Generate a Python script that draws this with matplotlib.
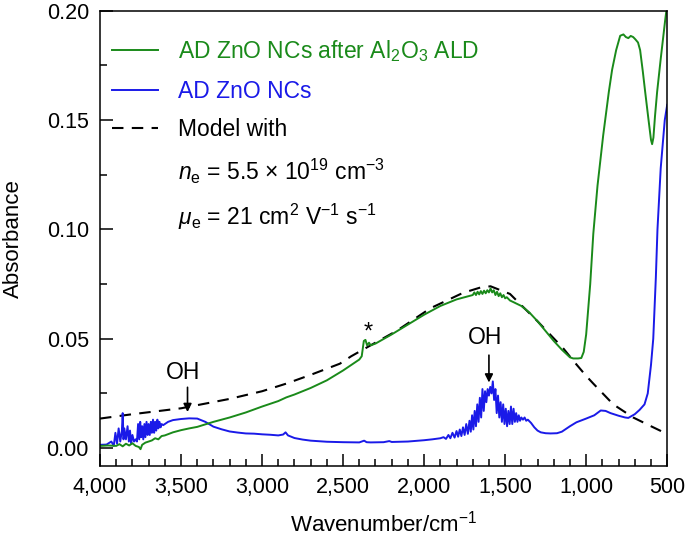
import numpy as np
import matplotlib.pyplot as plt
from matplotlib.lines import Line2D
from matplotlib.ticker import MultipleLocator, FuncFormatter

plt.rcParams['font.family'] = ['Liberation Sans', 'DejaVu Sans']
plt.rcParams['mathtext.fontset'] = 'custom'
plt.rcParams['mathtext.rm'] = 'Liberation Sans'
plt.rcParams['mathtext.it'] = 'Liberation Sans:italic'
plt.rcParams['font.size'] = 15

# ---- data ----
# AD ZnO NCs (blue)
blue_wn = [4000, 3960, 3930, 3915, 3905, 3895, 3885, 3875, 3865, 3860, 3855, 3850,
           3840, 3830, 3822, 3815, 3808, 3800, 3790, 3780, 3772, 3765, 3758, 3752,
           3746, 3740, 3733, 3726, 3720, 3713, 3706, 3700, 3693, 3686, 3680, 3673,
           3666, 3660, 3653, 3646, 3640, 3633, 3626, 3620, 3610, 3600, 3580, 3550,
           3500, 3450, 3400, 3350, 3300, 3250, 3200, 3150, 3100, 3050, 3000, 2950,
           2900, 2870, 2855, 2840, 2800, 2750, 2700, 2600, 2500, 2400, 2370, 2355,
           2330, 2250, 2215, 2200, 2100, 2000, 1950,
           1900, 1880, 1865, 1850, 1838, 1825, 1812, 1800, 1790, 1780, 1770, 1760,
           1750, 1740, 1730, 1720, 1712, 1704, 1696, 1688, 1680, 1672, 1664, 1656,
           1648, 1640, 1632, 1624, 1616, 1608, 1600, 1592, 1584, 1576, 1568, 1560,
           1552, 1544, 1536, 1528, 1520, 1512, 1504, 1496, 1488, 1480, 1472, 1464,
           1456, 1448, 1440, 1432, 1424, 1416, 1408, 1400, 1390, 1380, 1370, 1360,
           1340, 1320, 1300, 1280, 1250, 1220, 1180, 1150, 1100, 1060, 1000, 950,
           910, 880, 850, 800, 760, 740, 700, 670, 640, 620, 600, 586, 570, 560,
           540, 515, 500]
blue_abs = [0.0015, 0.0016, 0.003, 0.001, 0.007, 0.002, 0.009, 0.003, 0.008, 0.016, 0.004, 0.009,
            0.004, 0.010, 0.003, 0.008, 0.002, 0.006, 0.003, 0.004, 0.003, 0.011, 0.004, 0.012,
            0.005, 0.010, 0.004, 0.011, 0.005, 0.012, 0.006, 0.011, 0.006, 0.012, 0.007, 0.013,
            0.007, 0.012, 0.008, 0.013, 0.009, 0.012, 0.0095, 0.011, 0.0105, 0.011, 0.012, 0.0128,
            0.0133, 0.0136, 0.0135, 0.012, 0.0098, 0.0086, 0.0076, 0.0071, 0.0067, 0.0066, 0.0063, 0.0061,
            0.0058, 0.0062, 0.0072, 0.0058, 0.0046, 0.0039, 0.0034, 0.0029, 0.0027, 0.0026, 0.0034, 0.0027,
            0.0026, 0.0027, 0.0032, 0.0028, 0.0030, 0.0036, 0.0040,
            0.0045, 0.0050, 0.0042, 0.0060, 0.0045, 0.0070, 0.0048, 0.0078, 0.0052, 0.0085, 0.0055, 0.0095,
            0.0060, 0.0110, 0.0065, 0.0125, 0.0075, 0.0150, 0.0085, 0.0170, 0.0100, 0.0200, 0.0120, 0.0230,
            0.0140, 0.0270, 0.0170, 0.0260, 0.0210, 0.0270, 0.0240, 0.0280, 0.0250, 0.0305, 0.0220, 0.0270,
            0.0160, 0.0240, 0.0140, 0.0210, 0.0120, 0.0200, 0.0110, 0.0180, 0.0100, 0.0170, 0.0110, 0.0190,
            0.0110, 0.0180, 0.0120, 0.0160, 0.0120, 0.0150, 0.0125, 0.0140, 0.0130, 0.0140, 0.0125, 0.0130,
            0.0115, 0.0095, 0.0080, 0.0072, 0.0068, 0.0067, 0.0068, 0.0075, 0.0100, 0.0118, 0.0135, 0.0150,
            0.0172, 0.0170, 0.0160, 0.0148, 0.0140, 0.0138, 0.0155, 0.0175, 0.0200, 0.0250, 0.038, 0.050, 0.078, 0.100,
            0.128, 0.150, 0.157]

# AD ZnO NCs after Al2O3 ALD (green)
green_wn = [4000, 3950, 3900, 3880, 3860, 3840, 3820, 3800, 3780, 3760, 3750, 3740,
            3720, 3700, 3680, 3660, 3640, 3620, 3600, 3550, 3500, 3450, 3400, 3300,
            3200, 3100, 3000, 2900, 2850, 2800, 2700, 2600, 2500, 2400, 2385, 2372,
            2362, 2352, 2340, 2330, 2300, 2200, 2100, 2000, 1900, 1800, 1750, 1700,
            1690, 1680, 1670, 1660, 1650, 1640, 1630, 1620, 1610, 1600, 1590, 1580,
            1570, 1560, 1550, 1540, 1530, 1520, 1510, 1500, 1490, 1470, 1450, 1400,
            1350, 1300, 1250, 1200, 1150, 1100, 1080, 1050, 1030, 1015, 1000, 975,
            956, 930, 895, 860, 840, 815, 790, 770, 755, 740, 725, 710, 697, 680,
            667, 650, 636, 615, 600, 593, 585, 575, 562, 540, 512, 500]
green_abs = [0.0010, 0.0012, 0.0010, 0.0018, 0.0008, 0.0020, 0.0012, 0.0022, 0.0010, 0.0005, -0.0005, 0.0015,
             0.0025, 0.0030, 0.0035, 0.0045, 0.0040, 0.0055, 0.0058, 0.0072, 0.0082, 0.0090, 0.0097, 0.0120,
             0.0140, 0.0163, 0.0190, 0.0215, 0.0232, 0.0245, 0.0275, 0.0310, 0.0355, 0.0405, 0.0420, 0.0490,
             0.0495, 0.0470, 0.0482, 0.0470, 0.0478, 0.0520, 0.0565, 0.0610, 0.0650, 0.0680, 0.0690, 0.0700,
             0.0712, 0.0700, 0.0715, 0.0703, 0.0718, 0.0705, 0.0720, 0.0708, 0.0722, 0.0712, 0.0730, 0.0712,
             0.0722, 0.0700, 0.0715, 0.0695, 0.0708, 0.0690, 0.0700, 0.0685, 0.0690, 0.0675, 0.0668, 0.0650,
             0.0620, 0.0580, 0.0535, 0.0490, 0.0450, 0.0415, 0.0410, 0.0410, 0.0412, 0.0440, 0.0520, 0.0750,
             0.0980, 0.1200, 0.1430, 0.1630, 0.1730, 0.1820, 0.1886, 0.1892, 0.1880, 0.1875, 0.1885, 0.1880, 0.1870, 0.1855,
             0.1820, 0.1720, 0.1630, 0.1500, 0.1410, 0.1390, 0.1420, 0.1520, 0.1630, 0.1780, 0.1960, 0.2030]

# Drude model (dashed)
model_wn = [4000, 3800, 3500, 3200, 3000, 2850, 2700, 2520, 2450, 2330, 2170, 1960,
            1760, 1650, 1590, 1470, 1300, 1140, 1080, 1000, 956, 833, 710, 600, 530]
model_abs = [0.0135, 0.0155, 0.0182, 0.0225, 0.0260, 0.0295, 0.0335, 0.0386, 0.0420, 0.0470, 0.0536, 0.0640,
             0.0710, 0.0735, 0.0740, 0.0705, 0.0580, 0.0455, 0.0400, 0.0330, 0.0295, 0.0200, 0.0140, 0.0100, 0.0075]

green_c = '#1a8a1a'
blue_c = '#1a1ae8'

fig = plt.figure(figsize=(6.85, 5.4), dpi=100)
ax = fig.add_axes([0.146, 0.137, 0.828, 0.843])

ax.plot(model_wn, model_abs, c='black', lw=1.5, ls=(0, (5.5, 4)))
ax.plot(blue_wn, blue_abs, c=blue_c, lw=1.4)
ax.plot(green_wn, green_abs, c=green_c, lw=1.4)

ax.set_xlim(4000, 500)
ax.set_ylim(-0.0082, 0.20)

ax.xaxis.set_major_locator(MultipleLocator(500))
ax.xaxis.set_minor_locator(MultipleLocator(100))
ax.yaxis.set_major_locator(MultipleLocator(0.05))
ax.yaxis.set_minor_locator(MultipleLocator(0.025))
ax.xaxis.set_major_formatter(FuncFormatter(lambda v, p: f'{v:,.0f}'))
ax.yaxis.set_major_formatter(FuncFormatter(lambda v, p: f'{v:.2f}'))
ax.tick_params(which='both', direction='in', top=False, right=False, width=1.1, labelsize=15.5)
ax.tick_params(which='major', length=9, pad=8)
ax.tick_params(which='minor', length=5)
for s in ax.spines.values():
    s.set_linewidth(1.1)

ax.set_xlabel('Wavenumber/cm$^{-1}$', fontsize=16, labelpad=9)
ax.set_ylabel('Absorbance', fontsize=16, labelpad=16)

# annotations
arr = dict(arrowstyle='-|>', color='black', lw=1.2, mutation_scale=12, shrinkA=0, shrinkB=0)
ax.annotate('', xy=(3460, 0.0165), xytext=(3460, 0.0278), arrowprops=arr)
ax.text(3488, 0.0345, 'OH', ha='center', va='center', fontsize=16.5)
ax.annotate('', xy=(1600, 0.030), xytext=(1600, 0.0425), arrowprops=arr)
ax.text(1623, 0.0505, 'OH', ha='center', va='center', fontsize=16.5)
ax.text(2346, 0.053, '*', ha='center', va='center', fontsize=17)

handles = [Line2D([], [], c=green_c, lw=1.4),
           Line2D([], [], c=blue_c, lw=1.4),
           Line2D([], [], c='black', lw=1.5, ls=(0, (5.5, 4))),
           Line2D([], [], c='none'),
           Line2D([], [], c='none')]
labels = ['AD ZnO NCs after Al$_2$O$_3$ ALD', 'AD ZnO NCs', 'Model with',
          r'$n_{\rm e}$ = 5.5 × 10$^{19}$ cm$^{-3}$',
          r'$\mu_{\rm e}$ = 21 cm$^{2}$ V$^{-1}$ s$^{-1}$']
ax.legend(handles, labels, loc='upper left', bbox_to_anchor=(0.021, 0.94),
          frameon=False, fontsize=16.5, handlelength=2.0, handletextpad=0.87,
          labelspacing=0.68, borderpad=0, borderaxespad=0,
          labelcolor=[green_c, blue_c, 'black', 'black', 'black'])

fig.savefig('out.png', dpi=100)
